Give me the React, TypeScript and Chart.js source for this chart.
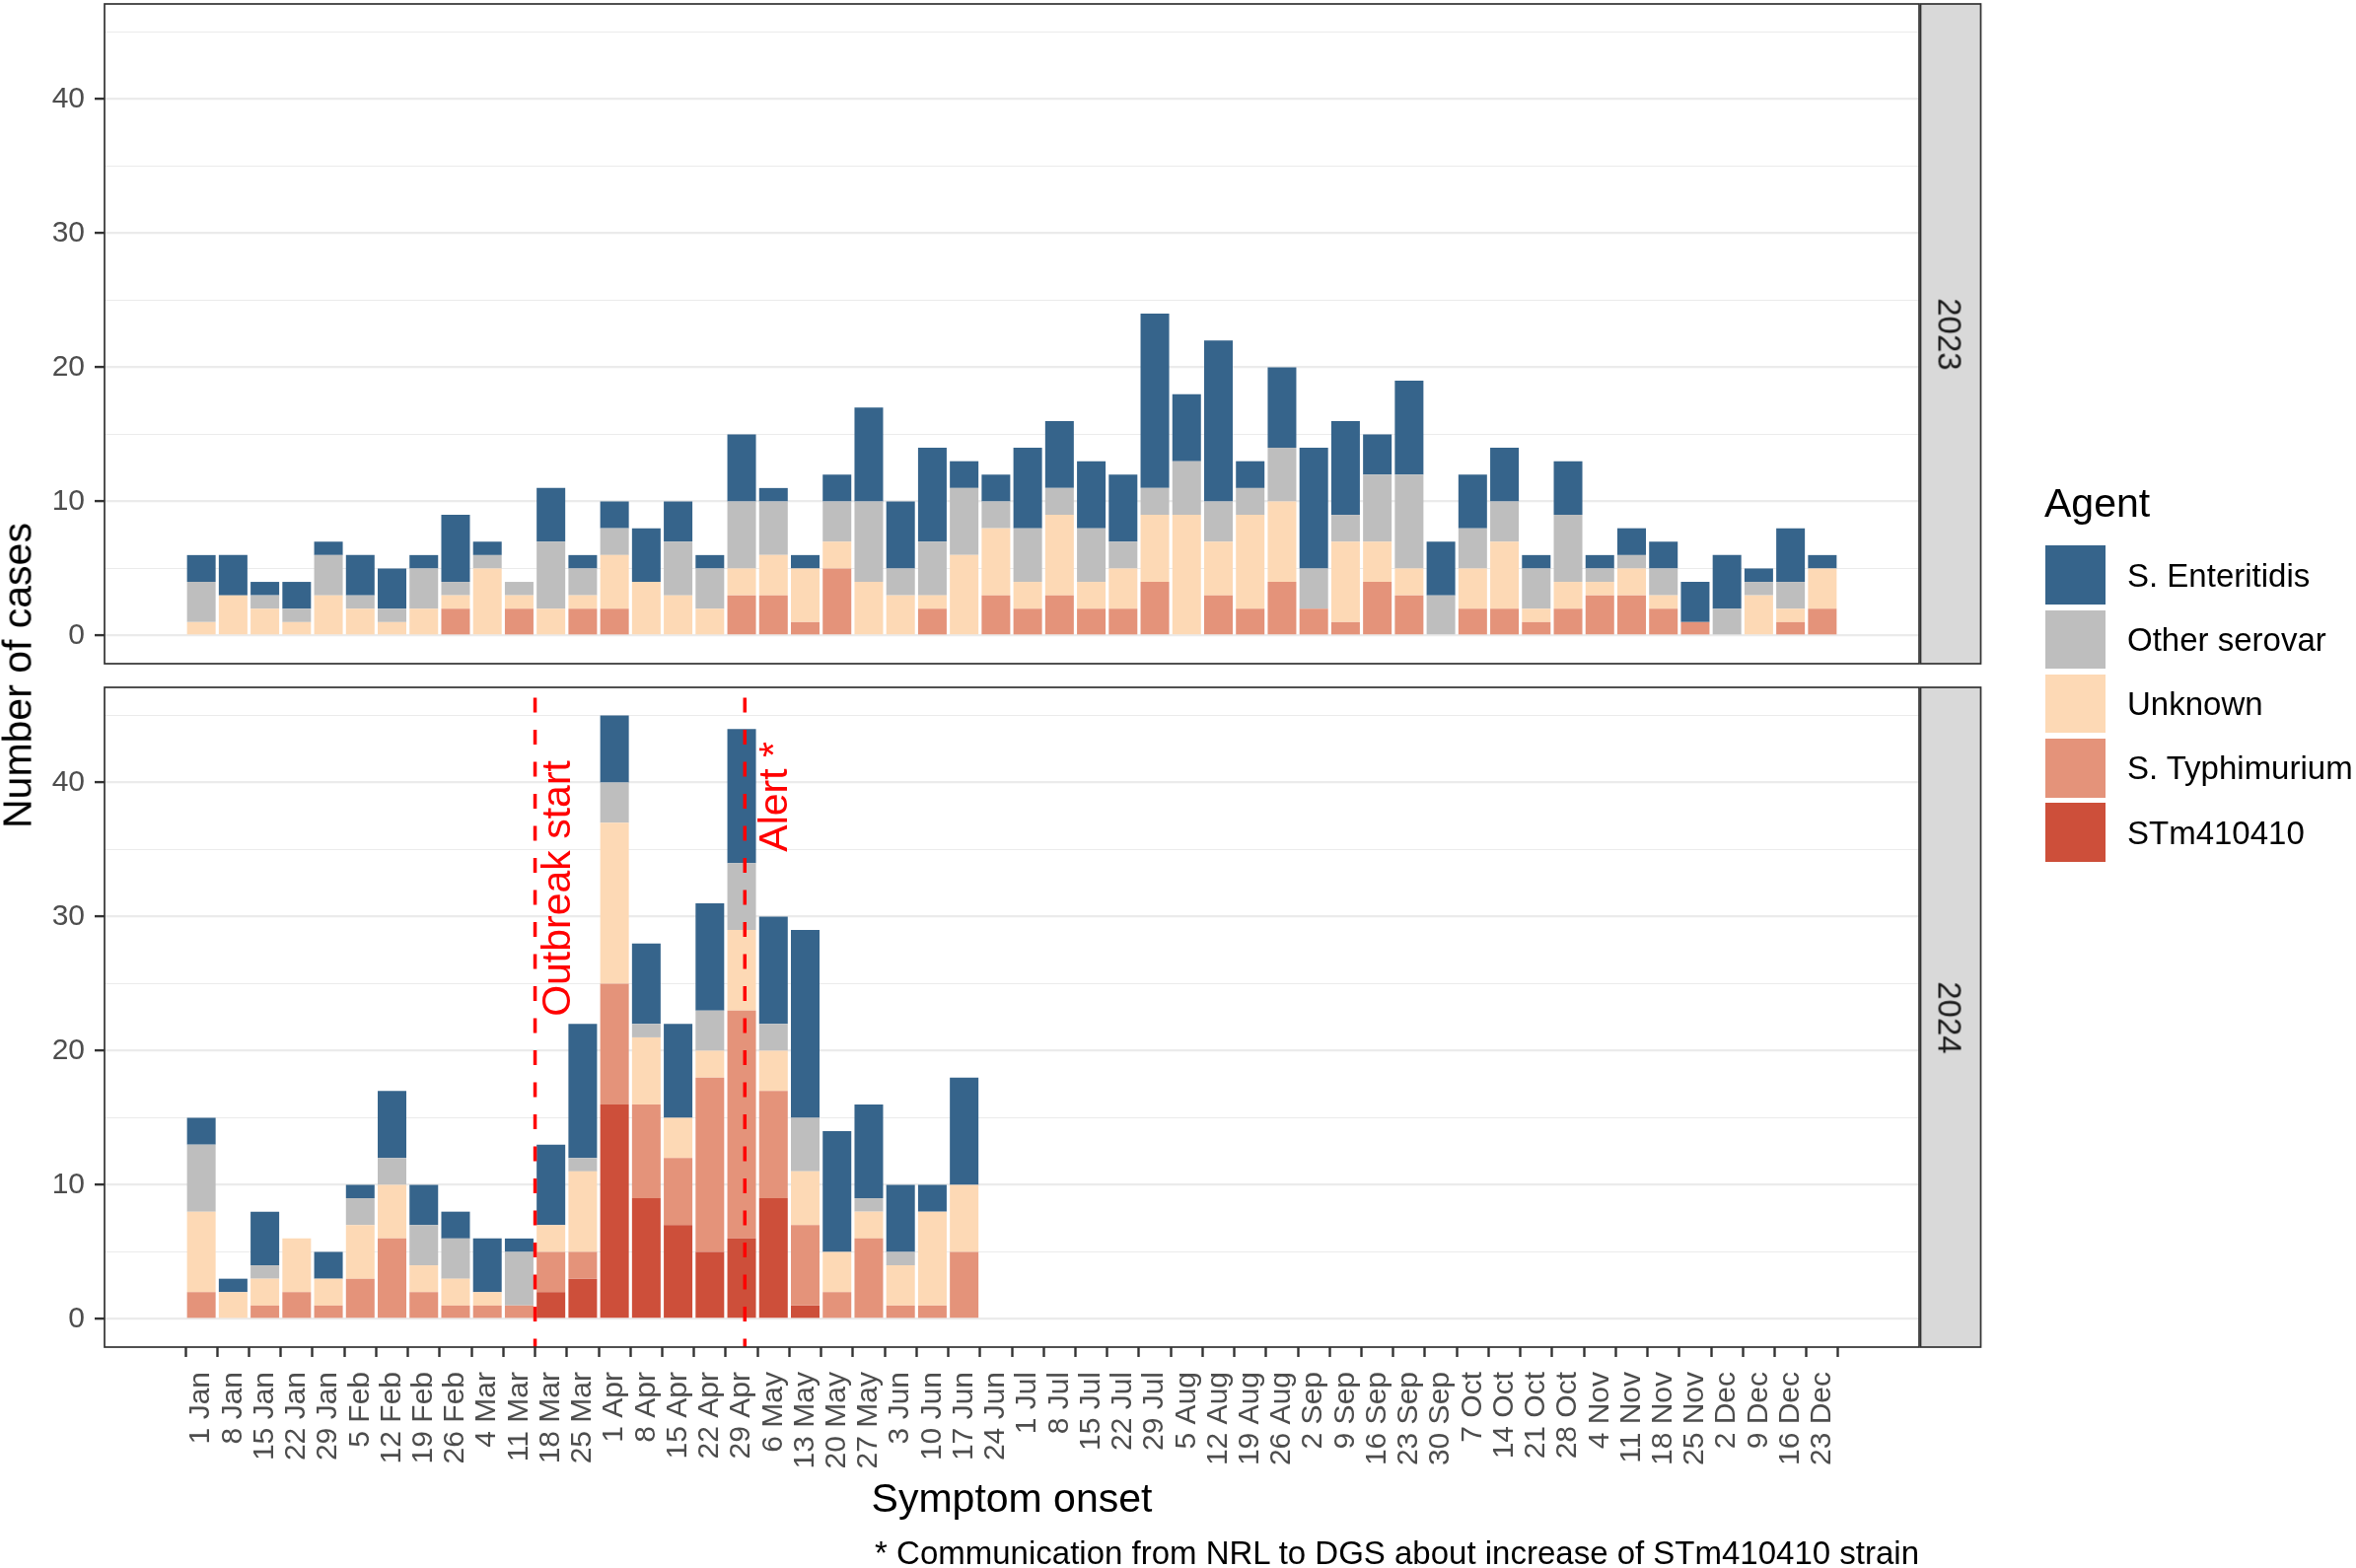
import { useEffect, useRef } from 'react';
import { Chart, registerables } from 'chart.js';

Chart.register(...registerables);

const FONT = "'Liberation Sans', Arial, Helvetica, sans-serif";
Chart.defaults.font.family = FONT;

// Week start (Monday) labels shared by both years
const WEEK_LABELS = [
  '1 Jan', '8 Jan', '15 Jan', '22 Jan', '29 Jan', '5 Feb', '12 Feb', '19 Feb', '26 Feb',
  '4 Mar', '11 Mar', '18 Mar', '25 Mar', '1 Apr', '8 Apr', '15 Apr', '22 Apr', '29 Apr',
  '6 May', '13 May', '20 May', '27 May', '3 Jun', '10 Jun', '17 Jun', '24 Jun', '1 Jul',
  '8 Jul', '15 Jul', '22 Jul', '29 Jul', '5 Aug', '12 Aug', '19 Aug', '26 Aug', '2 Sep',
  '9 Sep', '16 Sep', '23 Sep', '30 Sep', '7 Oct', '14 Oct', '21 Oct', '28 Oct', '4 Nov',
  '11 Nov', '18 Nov', '25 Nov', '2 Dec', '9 Dec', '16 Dec', '23 Dec',
];

// Weekly case counts, 2023
const ENTERITIDIS_2023 = [2, 3, 1, 2, 1, 3, 3, 1, 5, 1, 0, 4, 1, 2, 4, 3, 1, 5, 1, 1, 2, 7, 5, 7, 2, 2, 6, 5, 5, 5, 13, 5, 12, 2, 6, 9, 7, 3, 7, 4, 4, 4, 1, 4, 1, 2, 2, 3, 4, 1, 4, 1];
const OTHER_2023 = [3, 0, 1, 1, 3, 1, 1, 3, 1, 1, 1, 5, 2, 2, 0, 4, 3, 5, 4, 0, 3, 6, 2, 4, 5, 2, 4, 2, 4, 2, 2, 4, 3, 2, 4, 3, 2, 5, 7, 3, 3, 3, 3, 5, 1, 1, 2, 0, 2, 1, 2, 0];
const UNKNOWN_2023 = [1, 3, 2, 1, 3, 2, 1, 2, 1, 5, 1, 2, 1, 4, 4, 3, 2, 2, 3, 4, 2, 4, 3, 1, 6, 5, 2, 6, 2, 3, 5, 9, 4, 7, 6, 0, 6, 3, 2, 0, 3, 5, 1, 2, 1, 2, 1, 0, 0, 3, 1, 3];
const TYPHIMURIUM_2023 = [0, 0, 0, 0, 0, 0, 0, 0, 2, 0, 2, 0, 2, 2, 0, 0, 0, 3, 3, 1, 5, 0, 0, 2, 0, 3, 2, 3, 2, 2, 4, 0, 3, 2, 4, 2, 1, 4, 3, 0, 2, 2, 1, 2, 3, 3, 2, 1, 0, 0, 1, 2];
const STM410410_2023 = [0, 0, 0, 0, 0, 0, 0, 0, 0, 0, 0, 0, 0, 0, 0, 0, 0, 0, 0, 0, 0, 0, 0, 0, 0, 0, 0, 0, 0, 0, 0, 0, 0, 0, 0, 0, 0, 0, 0, 0, 0, 0, 0, 0, 0, 0, 0, 0, 0, 0, 0, 0];

// Weekly case counts, 2024 (1 Jan to 17 Jun)
const ENTERITIDIS_2024 = [2, 1, 4, 0, 2, 1, 5, 3, 2, 4, 1, 6, 10, 5, 6, 7, 8, 10, 8, 14, 9, 7, 5, 2, 8];
const OTHER_2024 = [5, 0, 1, 0, 0, 2, 2, 3, 3, 0, 4, 0, 1, 3, 1, 0, 3, 5, 2, 4, 0, 1, 1, 0, 0];
const UNKNOWN_2024 = [6, 2, 2, 4, 2, 4, 4, 2, 2, 1, 0, 2, 6, 12, 5, 3, 2, 6, 3, 4, 3, 2, 3, 7, 5];
const TYPHIMURIUM_2024 = [2, 0, 1, 2, 1, 3, 6, 2, 1, 1, 1, 3, 2, 9, 7, 5, 13, 17, 8, 6, 2, 6, 1, 1, 5];
const STM410410_2024 = [0, 0, 0, 0, 0, 0, 0, 0, 0, 0, 0, 2, 3, 16, 9, 7, 5, 6, 9, 1, 0, 0, 0, 0, 0];

// Legend order (top of stack first) and fills
const AGENTS = ['S. Enteritidis', 'Other serovar', 'Unknown', 'S. Typhimurium', 'STm410410'];
const AGENT_COLORS = ['#36648B', '#BEBEBE', '#FDD9B5', '#E4937A', '#CD4F3A'];

const Y_BREAKS = [0, 5, 10, 15, 20, 25, 30, 35, 40, 45];

// Event markers on the 2024 panel (week index, zero-based)
const OUTBREAK_START_WEEK = 10.5;
const ALERT_WEEK = 17.1;

const X_MIN = -3.045;
const X_MAX = 54.045;
const Y_MIN = -2.1;
const Y_MAX = 47.1;

type Series = number[];

function stackDatasets(ent: Series, oth: Series, unk: Series, typ: Series, stm: Series) {
  // bottom of the stack first
  const layers: [string, Series][] = [
    [AGENTS[4], stm],
    [AGENTS[3], typ],
    [AGENTS[2], unk],
    [AGENTS[1], oth],
    [AGENTS[0], ent],
  ];
  return layers.map(([label, values]) => ({
    label,
    data: values.map((v, i) => ({ x: i, y: v })),
    backgroundColor: AGENT_COLORS[AGENTS.indexOf(label)],
    borderWidth: 0,
    barPercentage: 0.9,
    categoryPercentage: 1,
  }));
}

const isMajor = (ctx: any) => ctx.tick && Math.round(ctx.tick.value) % 10 === 0;

const panelFrame = {
  id: 'panelFrame',
  afterDraw(chart: any) {
    const { ctx, chartArea } = chart;
    const { left, top, right, bottom } = chartArea;
    ctx.save();
    ctx.fillStyle = '#D9D9D9';
    ctx.fillRect(right + 1.5, top, 61, bottom - top);
    ctx.strokeStyle = '#333333';
    ctx.lineWidth = 1.7;
    ctx.strokeRect(right + 1.5, top, 61, bottom - top);
    ctx.strokeRect(left, top, right - left, bottom - top);
    ctx.restore();
  },
};

const eventMarkers = {
  id: 'eventMarkers',
  afterDatasetsDraw(chart: any) {
    const { ctx, chartArea, scales } = chart;
    const xs = scales.x;
    const ys = scales.y;
    ctx.save();
    ctx.strokeStyle = '#FF0000';
    ctx.lineWidth = 3.5;
    ctx.setLineDash([15, 17.5]);
    ctx.lineDashOffset = 22;
    [OUTBREAK_START_WEEK, ALERT_WEEK].forEach((w) => {
      const px = xs.getPixelForValue(w);
      ctx.beginPath();
      ctx.moveTo(px, chartArea.top);
      ctx.lineTo(px, chartArea.bottom);
      ctx.stroke();
    });
    ctx.setLineDash([]);
    ctx.fillStyle = '#FF0000';
    ctx.font = `41px ${FONT}`;
    ctx.textAlign = 'center';
    ctx.textBaseline = 'alphabetic';
    const labels: [string, number, number][] = [
      ['Outbreak start', OUTBREAK_START_WEEK + 1.1, 32.1],
      ['Alert *', ALERT_WEEK + 1.33, 38.95],
    ];
    labels.forEach(([text, wx, vy]) => {
      ctx.save();
      ctx.translate(xs.getPixelForValue(wx), ys.getPixelForValue(vy));
      ctx.rotate(-Math.PI / 2);
      ctx.fillText(text, 0, 0);
      ctx.restore();
    });
    ctx.restore();
  },
};

function makeConfig(datasets: any[], showX: boolean, padding: any, extra: any[]): any {
  return {
    type: 'bar',
    data: { datasets },
    plugins: [panelFrame, ...extra],
    options: {
      responsive: false,
      animation: false,
      devicePixelRatio: 1,
      events: [],
      layout: { padding },
      plugins: { legend: { display: false }, tooltip: { enabled: false } },
      scales: {
        x: {
          type: 'linear',
          display: showX,
          min: X_MIN,
          max: X_MAX,
          offset: false,
          stacked: true,
          afterBuildTicks: (s: any) => {
            s.ticks = WEEK_LABELS.map((_, i) => ({ value: i }));
          },
          afterFit: (s: any) => {
            s.height = showX ? 224 : 0;
            s.paddingLeft = 0;
            s.paddingRight = 0;
            s.paddingTop = 0;
            s.paddingBottom = 0;
          },
          border: { display: false },
          grid: {
            drawOnChartArea: false,
            drawTicks: true,
            tickLength: 10,
            tickColor: '#333333',
            tickWidth: 2.4,
          },
          ticks: {
            autoSkip: false,
            minRotation: 90,
            maxRotation: 90,
            padding: 15,
            color: '#4D4D4D',
            font: { size: 30, family: FONT },
            callback: (v: any) => WEEK_LABELS[Math.round(v)] ?? '',
          },
        },
        y: {
          type: 'linear',
          min: Y_MIN,
          max: Y_MAX,
          stacked: true,
          afterBuildTicks: (s: any) => {
            s.ticks = Y_BREAKS.map((v) => ({ value: v }));
          },
          afterFit: (s: any) => {
            s.width = 106;
            s.paddingLeft = 0;
            s.paddingRight = 0;
            s.paddingTop = 0;
            s.paddingBottom = 0;
          },
          border: { display: false },
          grid: {
            color: '#EBEBEB',
            lineWidth: (ctx: any) => (isMajor(ctx) ? 2.2 : 1.1),
            tickLength: 10,
            tickColor: (ctx: any) => (isMajor(ctx) ? '#333333' : 'rgba(0,0,0,0)'),
            tickWidth: 2.4,
          },
          ticks: {
            padding: 10,
            color: '#4D4D4D',
            font: { size: 30, family: FONT },
            callback: (v: any) => (Math.round(v) % 10 === 0 ? String(v) : ''),
          },
        },
      },
    },
  };
}

const abs = (style: any) => ({ position: 'absolute' as const, whiteSpace: 'nowrap' as const, ...style });

export default function App() {
  const topRef = useRef<HTMLCanvasElement>(null);
  const bottomRef = useRef<HTMLCanvasElement>(null);

  useEffect(() => {
    const top = new Chart(
      topRef.current as HTMLCanvasElement,
      makeConfig(
        stackDatasets(ENTERITIDIS_2023, OTHER_2023, UNKNOWN_2023, TYPHIMURIUM_2023, STM410410_2023),
        false,
        { left: 0, right: 443, top: 4, bottom: 7 },
        [],
      ),
    );
    const bottom = new Chart(
      bottomRef.current as HTMLCanvasElement,
      makeConfig(
        stackDatasets(ENTERITIDIS_2024, OTHER_2024, UNKNOWN_2024, TYPHIMURIUM_2024, STM410410_2024),
        true,
        { left: 0, right: 443, top: 17, bottom: 0 },
        [eventMarkers],
      ),
    );
    return () => {
      top.destroy();
      bottom.destroy();
    };
  }, []);

  return (
    <div
      style={{
        position: 'fixed',
        left: 0,
        top: 0,
        width: 2389,
        height: 1590,
        overflow: 'hidden',
        background: '#FFFFFF',
        fontFamily: FONT,
      }}
    >
      <canvas ref={topRef} width={2389} height={680} style={{ position: 'absolute', left: 0, top: 0, width: 2389, height: 680 }} />
      <canvas ref={bottomRef} width={2389} height={910} style={{ position: 'absolute', left: 0, top: 680, width: 2389, height: 910 }} />

      {/* facet strip labels */}
      <div style={abs({ left: 1977, top: 338.5, fontSize: 33, lineHeight: '33px', color: '#1A1A1A', transform: 'translate(-50%,-50%) rotate(90deg)' })}>2023</div>
      <div style={abs({ left: 1977, top: 1031.5, fontSize: 33, lineHeight: '33px', color: '#1A1A1A', transform: 'translate(-50%,-50%) rotate(90deg)' })}>2024</div>

      {/* axis titles */}
      <div style={abs({ left: 17.5, top: 685, fontSize: 41, lineHeight: '41px', color: '#000', transform: 'translate(-50%,-50%) rotate(-90deg)' })}>Number of cases</div>
      <div style={abs({ left: 1026, top: 1499, fontSize: 41, lineHeight: '41px', color: '#000', transform: 'translateX(-50%)' })}>Symptom onset</div>

      {/* caption */}
      <div style={abs({ right: 443, top: 1558, fontSize: 33, lineHeight: '33px', color: '#000' })}>
        * Communication from NRL to DGS about increase of STm410410 strain
      </div>

      {/* legend */}
      <div style={abs({ left: 2073, top: 490, fontSize: 41, lineHeight: '41px', color: '#000' })}>Agent</div>
      {AGENTS.map((name, i) => {
        const keyTop = 553.3 + i * 65.25;
        return (
          <div key={name}>
            <div style={abs({ left: 2074, top: keyTop, width: 61, height: 59.5, background: AGENT_COLORS[i] })} />
            <div style={abs({ left: 2157, top: keyTop + 29.75 - 16.5, fontSize: 33, lineHeight: '33px', color: '#000' })}>{name}</div>
          </div>
        );
      })}
    </div>
  );
}
